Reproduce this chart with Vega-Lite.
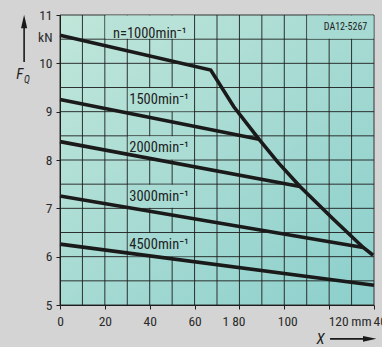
{
  "$schema": "https://vega.github.io/schema/vega-lite/v6.json",
  "width": 314,
  "height": 290,
  "autosize": {"type": "none"},
  "padding": {"left": 60, "top": 15, "right": 8, "bottom": 42},
  "background": "#d4d4d4",
  "view": {"stroke": null},
  "config": {
    "font": "Liberation Sans Narrow, Roboto Condensed, Roboto, sans-serif",
    "axis": {"labelFont": "Liberation Sans Narrow, Roboto Condensed, Roboto, sans-serif", "labelFontSize": 13.5, "labelColor": "#2a2a2a"}
  },
  "datasets": {
    "plot": [{"x": 0, "x2": 140, "y": 5, "y2": 11}],
    "grid": [
      {"x": 10, "x2": 10, "y": 5, "y2": 11},
      {"x": 20, "x2": 20, "y": 5, "y2": 11},
      {"x": 30, "x2": 30, "y": 5, "y2": 11},
      {"x": 40, "x2": 40, "y": 5, "y2": 11},
      {"x": 50, "x2": 50, "y": 5, "y2": 11},
      {"x": 60, "x2": 60, "y": 5, "y2": 11},
      {"x": 70, "x2": 70, "y": 5, "y2": 11},
      {"x": 80, "x2": 80, "y": 5, "y2": 11},
      {"x": 90, "x2": 90, "y": 5, "y2": 11},
      {"x": 100, "x2": 100, "y": 5, "y2": 11},
      {"x": 110, "x2": 110, "y": 5, "y2": 11},
      {"x": 120, "x2": 120, "y": 5, "y2": 11},
      {"x": 130, "x2": 130, "y": 5, "y2": 11},
      {"x": 0, "x2": 140, "y": 5.5, "y2": 5.5},
      {"x": 0, "x2": 140, "y": 6, "y2": 6},
      {"x": 0, "x2": 140, "y": 6.5, "y2": 6.5},
      {"x": 0, "x2": 140, "y": 7, "y2": 7},
      {"x": 0, "x2": 140, "y": 7.5, "y2": 7.5},
      {"x": 0, "x2": 140, "y": 8, "y2": 8},
      {"x": 0, "x2": 140, "y": 8.5, "y2": 8.5},
      {"x": 0, "x2": 140, "y": 9, "y2": 9},
      {"x": 0, "x2": 140, "y": 9.5, "y2": 9.5},
      {"x": 0, "x2": 140, "y": 10, "y2": 10},
      {"x": 0, "x2": 140, "y": 10.5, "y2": 10.5}
    ],
    "cells": [
      {"id": "c1000", "x": 20.25, "x2": 59.75, "y": 10.51, "y2": 10.99},
      {"id": "c1500", "x": 30.25, "x2": 59.75, "y": 9.01, "y2": 9.49},
      {"id": "c2000", "x": 30.25, "x2": 59.75, "y": 8.01, "y2": 8.49},
      {"id": "c3000", "x": 30.25, "x2": 59.75, "y": 7.01, "y2": 7.49},
      {"id": "c4500", "x": 30.25, "x2": 59.75, "y": 6.01, "y2": 6.49},
      {"id": "cDA", "x": 110.25, "x2": 139.75, "y": 10.51, "y2": 10.99}
    ],
    "curves": [
      {"n": "1000", "i": 0, "x": 0, "y": 10.58},
      {"n": "1000", "i": 1, "x": 67.2, "y": 9.86},
      {"n": "1000", "i": 2, "x": 77.5, "y": 9.1},
      {"n": "1000", "i": 3, "x": 88.7, "y": 8.43},
      {"n": "1000", "i": 4, "x": 97, "y": 7.96},
      {"n": "1000", "i": 5, "x": 107, "y": 7.45},
      {"n": "1000", "i": 6, "x": 121.8, "y": 6.78},
      {"n": "1000", "i": 7, "x": 135.2, "y": 6.19},
      {"n": "1000", "i": 8, "x": 139.6, "y": 6.03},
      {"n": "1500", "i": 0, "x": 0, "y": 9.25},
      {"n": "1500", "i": 1, "x": 88.7, "y": 8.43},
      {"n": "2000", "i": 0, "x": 0, "y": 8.38},
      {"n": "2000", "i": 1, "x": 107, "y": 7.45},
      {"n": "3000", "i": 0, "x": 0, "y": 7.255},
      {"n": "3000", "i": 1, "x": 135.2, "y": 6.19},
      {"n": "4500", "i": 0, "x": 0, "y": 6.26},
      {"n": "4500", "i": 1, "x": 140, "y": 5.41}
    ],
    "labels": [
      {"x": 23.6, "y": 10.52, "text": "n=1000min⁻¹"},
      {"x": 30.9, "y": 9.16, "text": "1500min⁻¹"},
      {"x": 30.9, "y": 8.17, "text": "2000min⁻¹"},
      {"x": 30.9, "y": 7.15, "text": "3000min⁻¹"},
      {"x": 30.9, "y": 6.16, "text": "4500min⁻¹"}
    ],
    "code": [{"x": 137, "y": 10.7, "text": "DA12-5267"}],
    "shafts": [
      {"x": -16, "y": 10.03, "x2": -16, "y2": 10.8},
      {"x": 120.4, "y": 4.3, "x2": 136, "y2": 4.3}
    ],
    "heads": [
      {"dir": "up", "x": -16, "y": 10.866},
      {"dir": "right", "x": 138.1, "y": 4.3}
    ],
    "titles": [
      {"x": -19.5, "y": 9.67, "text": "F", "part": "main"},
      {"x": -16.1, "y": 9.59, "text": "Q", "part": "sub"},
      {"x": 114.4, "y": 4.2, "text": "X", "part": "main"}
    ]
  },
  "layer": [
    {
      "data": {"name": "plot"},
      "mark": {"type": "rect", "stroke": "#333333", "strokeWidth": 1,
        "color": {"gradient": "linear", "x1": 0, "y1": 0, "x2": 1, "y2": 1,
          "stops": [{"offset": 0, "color": "#c0e6d9"}, {"offset": 1, "color": "#8ccfcc"}]}},
      "encoding": {
        "x": {"field": "x", "type": "quantitative",
          "scale": {"domain": [0, 140], "nice": false, "zero": false},
          "axis": {
            "title": null,
            "zindex": 1,
            "values": [0, 20, 40, 60, 80, 100, 120, 140],
            "grid": false,
            "domainColor": "#1e1e1e", "domainWidth": 1,
            "tickColor": "#1e1e1e", "tickSize": 4,
            "labelPadding": 5,
            "labelFlush": false,
            "labelOverlap": false,
            "labelExpr": "datum.value == 80 ? '1 80' : datum.value == 120 ? '120\u2009mm' : datum.value == 140 ? '40' : datum.label",
            "labelAlign": {"condition": {"test": "datum.value >= 120", "value": "left"}, "value": "center"},
            "labelOffset": {"condition": [{"test": "datum.value == 80", "value": -6}, {"test": "datum.value == 100", "value": 3}, {"test": "datum.value == 120", "value": -1}, {"test": "datum.value == 140", "value": -1}], "value": 0}
          }
        },
        "x2": {"field": "x2"},
        "y": {"field": "y", "type": "quantitative",
          "scale": {"domain": [5, 11], "nice": false, "zero": false},
          "axis": {
            "title": null,
            "zindex": 1,
            "values": [5, 6, 7, 8, 9, 10, 10.5, 11],
            "grid": false,
            "domainColor": "#1e1e1e", "domainWidth": 1,
            "tickColor": "#1e1e1e", "tickSize": 4,
            "tickOpacity": {"condition": {"test": "datum.value % 1 == 0", "value": 1}, "value": 0},
            "labelPadding": 4,
            "labelFlush": false,
            "labelOverlap": false,
            "labelExpr": "datum.value == 10.5 ? 'kN' : datum.label",
            "labelOffset": {"condition": {"test": "datum.value == 10.5", "value": -2}, "value": 0}
          }
        },
        "y2": {"field": "y2"}
      }
    },
    {
      "data": {"name": "grid"},
      "mark": {"type": "rule", "color": "#1e1e1e", "strokeWidth": 1, "opacity": 0.9},
      "encoding": {
        "x": {"field": "x", "type": "quantitative"},
        "y": {"field": "y", "type": "quantitative"},
        "x2": {"field": "x2"},
        "y2": {"field": "y2"}
      }
    },
    {
      "data": {"name": "cells"},
      "mark": {"type": "rect", "strokeWidth": 0},
      "encoding": {
        "x": {"field": "x", "type": "quantitative"},
        "x2": {"field": "x2"},
        "y": {"field": "y", "type": "quantitative"},
        "y2": {"field": "y2"},
        "fill": {"field": "id", "type": "nominal", "legend": null,
          "scale": {"domain": ["c1000", "c1500", "c2000", "c3000", "c4500", "cDA"],
            "range": ["#b8e2d7", "#b0dfd5", "#acddd4", "#a8dbd3", "#a3d9d2", "#a6dad3"]}}
      }
    },
    {
      "data": {"name": "curves"},
      "mark": {"type": "line", "color": "#1a1a1a", "strokeWidth": 3.6, "strokeJoin": "miter", "strokeCap": "butt"},
      "encoding": {
        "x": {"field": "x", "type": "quantitative"},
        "y": {"field": "y", "type": "quantitative"},
        "detail": {"field": "n", "type": "nominal"},
        "order": {"field": "i", "type": "quantitative"}
      }
    },
    {
      "data": {"name": "labels"},
      "mark": {"type": "text", "align": "left", "baseline": "alphabetic", "fontSize": 14.5, "color": "#1e1e1e"},
      "encoding": {
        "x": {"field": "x", "type": "quantitative"},
        "y": {"field": "y", "type": "quantitative"},
        "text": {"field": "text"}
      }
    },
    {
      "data": {"name": "code"},
      "mark": {"type": "text", "align": "right", "baseline": "alphabetic", "fontSize": 10, "color": "#1e1e1e"},
      "encoding": {
        "x": {"field": "x", "type": "quantitative"},
        "y": {"field": "y", "type": "quantitative"},
        "text": {"field": "text"}
      }
    },
    {
      "data": {"name": "shafts"},
      "mark": {"type": "rule", "color": "#1a1a1a", "strokeWidth": 1.6},
      "encoding": {
        "x": {"field": "x", "type": "quantitative"},
        "y": {"field": "y", "type": "quantitative"},
        "x2": {"field": "x2"},
        "y2": {"field": "y2"}
      }
    },
    {
      "data": {"name": "heads"},
      "mark": {"type": "point", "filled": true, "opacity": 1, "color": "#1a1a1a", "size": 180},
      "encoding": {
        "x": {"field": "x", "type": "quantitative"},
        "y": {"field": "y", "type": "quantitative"},
        "shape": {"field": "dir", "type": "nominal", "legend": null,
          "scale": {"domain": ["up", "right"], "range": ["M0,-1L0.46,1L-0.46,1Z", "M1,0L-1,-0.43L-1,0.43Z"]}}
      }
    },
    {
      "data": {"name": "titles"},
      "mark": {"type": "text", "align": "left", "baseline": "alphabetic", "fontStyle": "italic", "color": "#1e1e1e"},
      "encoding": {
        "x": {"field": "x", "type": "quantitative"},
        "y": {"field": "y", "type": "quantitative"},
        "text": {"field": "text"},
        "size": {"field": "part", "type": "nominal", "legend": null,
          "scale": {"domain": ["main", "sub"], "range": [15, 10]}}
      }
    }
  ]
}
